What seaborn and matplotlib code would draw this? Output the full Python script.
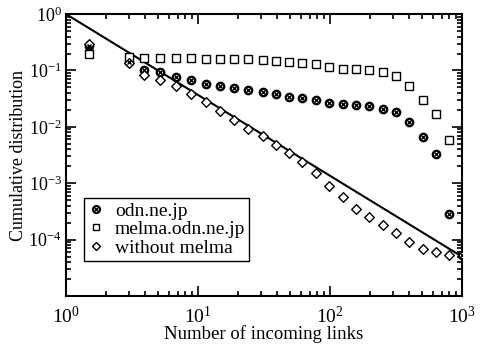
import numpy as np
import pandas as pd
import seaborn as sns
import matplotlib.pyplot as plt
from matplotlib.ticker import LogLocator, LogFormatterMathtext, NullFormatter, FixedLocator
from matplotlib.legend_handler import HandlerTuple
from matplotlib.lines import Line2D

sns.set_style('ticks')
plt.rcParams['font.family'] = ['Liberation Serif', 'DejaVu Serif']
plt.rcParams['mathtext.fontset'] = 'custom'
plt.rcParams['mathtext.rm'] = 'Liberation Serif'
plt.rcParams['font.size'] = 11
plt.rcParams['text.color'] = 'black'
plt.rcParams['axes.labelcolor'] = 'black'
plt.rcParams['xtick.color'] = 'black'
plt.rcParams['ytick.color'] = 'black'

# bin centres (number of incoming links)
links = [1.5, 3.0, 3.9, 5.15, 6.8, 8.85, 11.5, 14.7, 18.7, 23.9, 31.0, 39.0, 48.9,
         61.4, 78.3, 98.2, 125, 157, 197, 252, 316, 396, 507, 635, 797, 1000]

odn = [0.27, 0.14, 0.102, 0.093, 0.078, 0.068, 0.058, 0.052, 0.048, 0.045, 0.042,
       0.038, 0.034, 0.033, 0.030, 0.027, 0.025, 0.024, 0.023, 0.021, 0.018,
       0.0124, 0.0067, 0.0033, 2.85e-4, 5.3e-5]

melma = [0.196, 0.171, 0.169, 0.169, 0.169, 0.164, 0.162, 0.158, 0.158, 0.158,
         0.153, 0.149, 0.141, 0.137, 0.130, 0.117, 0.108, 0.106, 0.102, 0.095,
         0.080, 0.054, 0.030, 0.017, 0.0059]

without = [0.291, 0.134, 0.083, 0.068, 0.053, 0.038, 0.0274, 0.0194, 0.0133, 0.0093,
           0.0068, 0.0047, 0.0034, 0.00243, 0.00155, 8.8e-4, 5.6e-4, 3.5e-4, 2.5e-4,
           1.84e-4, 1.31e-4, 9.1e-5, 6.8e-5, 6.05e-5, 5.4e-5]

# power-law fit line
fit_x = [1, 1000]
fit_y = [1, 5e-5]

fig, ax = plt.subplots(figsize=(4.8, 3.44), dpi=100)
fig.subplots_adjust(left=0.1375, right=0.9625, top=0.959, bottom=0.1395)

ax.set_xscale('log')
ax.set_yscale('log')

sns.lineplot(x=fit_x, y=fit_y, color='black', lw=1.5, ax=ax, legend=False)

ax.scatter(links, odn, marker='o', s=28, facecolor='white',
           edgecolor='black', linewidth=1.7, zorder=3)
ax.scatter(links, odn, marker='x', s=9, color='black', linewidth=1.0, zorder=4)
sns.scatterplot(x=links[:len(melma)], y=melma, marker='s', s=34, facecolor='white',
                edgecolor='black', linewidth=1.0, ax=ax, zorder=3)
sns.scatterplot(x=links[:len(without)], y=without, marker='D', s=24, facecolor='white',
                edgecolor='black', linewidth=1.0, ax=ax, zorder=3)

ax.set_xlim(1, 1000)
ax.set_ylim(1e-5, 1)

ax.xaxis.set_major_locator(LogLocator(base=10, numticks=10))
ax.yaxis.set_major_locator(FixedLocator([1e-4, 1e-3, 1e-2, 1e-1, 1]))
ax.xaxis.set_minor_locator(LogLocator(base=10, subs=np.arange(2, 10), numticks=20))
ax.yaxis.set_minor_locator(LogLocator(base=10, subs=np.arange(2, 10), numticks=20))
ax.xaxis.set_major_formatter(LogFormatterMathtext())
ax.yaxis.set_major_formatter(LogFormatterMathtext())
ax.xaxis.set_minor_formatter(NullFormatter())
ax.yaxis.set_minor_formatter(NullFormatter())
ax.tick_params(which='both', direction='in', top=True, right=True, width=1.2)
ax.tick_params(which='major', length=7)
ax.tick_params(axis='x', which='major', pad=7, labelsize=14)
ax.tick_params(axis='y', which='major', pad=3, labelsize=13)
ax.tick_params(which='minor', length=3.5)
for s in ax.spines.values():
    s.set_linewidth(1.5)
    s.set_color('black')

ax.set_xlabel('Number of incoming links', fontsize=13.5, labelpad=-1)
ax.set_ylabel('Cumulative distribution', fontsize=13, labelpad=1)

sq = Line2D([], [], marker='s', ls='', mfc='white', mec='black', ms=5, mew=1.0)
di = Line2D([], [], marker='D', ls='', mfc='white', mec='black', ms=4, mew=1.0)
co = Line2D([], [], marker='o', ls='', mfc='white', mec='black', ms=5, mew=1.6)
cx = Line2D([], [], marker='x', ls='', color='black', ms=2.5, mew=1.0)
leg = ax.legend([(co, cx), sq, di], ['odn.ne.jp', 'melma.odn.ne.jp', 'without melma'],
                handler_map={tuple: HandlerTuple(ndivide=1, pad=0)},
                loc='lower left', bbox_to_anchor=(0.045, 0.125), fontsize=14,
                frameon=True, fancybox=False, edgecolor='black', framealpha=1,
                handlelength=0.9, handletextpad=0.5, borderpad=0.2, labelspacing=0.05,
                borderaxespad=0)
leg.get_frame().set_linewidth(1.0)

fig.savefig('out.png', dpi=100)
